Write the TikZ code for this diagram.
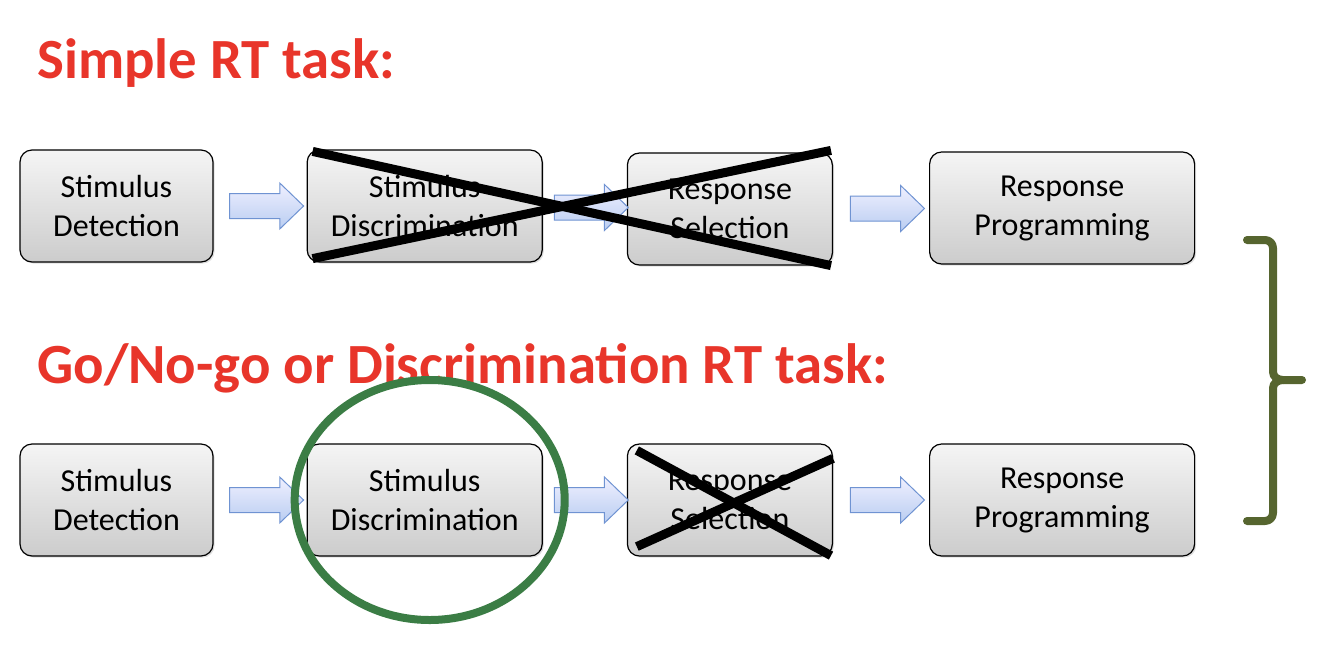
\documentclass[tikz,border=0pt]{standalone}
\usepackage{fontspec}
\setmainfont{Carlito}
\usepackage{tikz}
\usetikzlibrary{positioning,calc,shapes.arrows,shadows}

\definecolor{titlered}{HTML}{E8352A}
\definecolor{ringgreen}{HTML}{3B7D45}
\definecolor{braceolive}{HTML}{56652F}
\definecolor{arrowblue}{HTML}{6F93D2}
\definecolor{arrowfill}{HTML}{B9CDF1}

\begin{document}
\begin{tikzpicture}[
        x=0.5pt, y=-0.5pt,
        stage/.style={
            rectangle,
            rounded corners=6pt,
            draw=black,
            line width=0.6pt,
            align=center,
            font=\fontsize{16}{19.5}\selectfont,
            minimum height=56pt,
            minimum width=#1,
            inner sep=2pt,
            top color=gray!8,
            bottom color=gray!40,
            drop shadow={opacity=0.25, shadow xshift=0.8pt, shadow yshift=-0.8pt}
        },
        blockarrow/.style={
            single arrow,
            draw=arrowblue,
            line width=0.5pt,
            top color=blue!6,
            bottom color=arrowfill,
            minimum height=37pt,
            inner xsep=0pt,
            inner ysep=6pt,
            single arrow head extend=5.25pt,
            single arrow tip angle=88
        },
        heading/.style={
            anchor=base west,
            inner sep=0pt,
            text=titlered,
            font=\fontsize{28.4}{33}\selectfont\bfseries
        },
        strike/.style={line width=4.5pt, draw=black},
        ring/.style={line width=4pt, draw=ringgreen},
        brace/.style={line width=4pt, draw=braceolive, line cap=round, line join=round}
    ]
        \useasboundingbox (0,0) rectangle (1334,644);

        % Simple RT task
        \node[heading] (head1) at (37,78) {Simple RT task:};

        \node[stage=96.5pt] (det1) at (116.5,206) {Stimulus\\Detection};
        \node[stage=117.5pt, right=46.5pt of det1] (dis1) {Stimulus\\Discrimination};
        \node[stage=102.5pt, right=42pt of dis1, yshift=-1.5pt] (sel1) {Response\\Selection};
        \node[stage=132.5pt, right=48pt of sel1, yshift=0.5pt] (prog1) {Response\\Programming};

        \node[blockarrow] (arr11) at ($(det1.east)!0.5!(dis1.west)$) {};
        \node[blockarrow] (arr12) at ($(dis1.east)!0.5!(sel1.west)$) {};
        \node[blockarrow] (arr13) at ($(sel1.east)!0.5!(prog1.west)$) {};

        \draw[strike] ($(dis1.north west)+(6,2)$) -- ($(sel1.south east)+(-2,0)$);
        \draw[strike] ($(dis1.south west)+(6,-4)$) -- ($(sel1.north east)+(-2,-2)$);

        % Go/No-go task
        \node[heading] (head2) at (37,383) {Go/No-go or Discrimination RT task:};

        \node[stage=96.5pt] (det2) at (116.5,500) {Stimulus\\Detection};
        \node[stage=117.5pt, right=46.5pt of det2] (dis2) {Stimulus\\Discrimination};
        \node[stage=102.5pt, right=42pt of dis2] (sel2) {Response\\Selection};
        \node[stage=132.5pt, right=48pt of sel2] (prog2) {Response\\Programming};

        \node[blockarrow] (arr21) at ($(det2.east)!0.5!(dis2.west)$) {};
        \node[blockarrow] (arr22) at ($(dis2.east)!0.5!(sel2.west)$) {};
        \node[blockarrow] (arr23) at ($(sel2.east)!0.5!(prog2.west)$) {};

        \draw[strike] ($(sel2.north west)+(10,7)$) -- ($(sel2.south east)+(-2,-1)$);
        \draw[strike] ($(sel2.south west)+(10,-10)$) -- ($(sel2.north east)+(0,15)$);

        \draw[ring] ($(dis2.center)+(5,0)$) ellipse [x radius=67.5pt, y radius=60pt];

        % brace on the right
        \draw[brace] (1247,240) -- (1265,240) to[out=0,in=90] (1273,248)
            -- (1273,372) to[out=-90,in=180] (1283,380) -- (1302,380);
        \draw[brace] (1283,380) to[out=180,in=90] (1273,388)
            -- (1273,513) to[out=-90,in=0] (1265,521) -- (1247,521);

\end{tikzpicture}
\end{document}
